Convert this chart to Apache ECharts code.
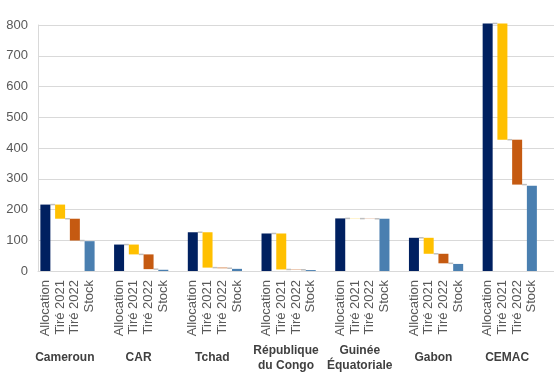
<!DOCTYPE html>
<html>
<head>
<meta charset="utf-8">
<script src="https://cdn.jsdelivr.net/npm/echarts@6/dist/echarts.min.js"></script>
<style>
  html, body { margin: 0; padding: 0; background: #fff; }
  #main { width: 554px; height: 373px; }
</style>
</head>
<body>
<div id="main"></div>
<script>
// données
const groups = ['Cameroun', 'CAR', 'Tchad', 'République\ndu Congo', 'Guinée\nÉquatoriale', 'Gabon', 'CEMAC'];
const steps = ['Allocation', 'Tiré 2021', 'Tiré 2022', 'Stock'];
const allocation = [216, 86, 126, 122, 171, 108, 805];
const tire2021 = [46, 32, 115, 117, 0.6, 52, 378];
const tire2022 = [71, 48, 2, 1, 0.6, 31, 146];
const stock = [97, 4, 7, 3, 170, 23, 277];

const colors = ['#002060', '#FFC000', '#C55A11', '#4A7FB0'];
const font = 'Liberation Sans, Arial, sans-serif';

// 5 emplacements par pays : 4 barres + un vide
const categories = [];
const base = [], sAlloc = [], s2021 = [], s2022 = [], sStock = [];
const connectors = [];
groups.forEach(function (g, i) {
    const k = i * 5;
    const after2021 = allocation[i] - tire2021[i];
    const after2022 = after2021 - tire2022[i];
    steps.forEach(function (s) { categories.push(s); });
    categories.push('');
    base.push('-', after2021, after2022, '-', '-');
    sAlloc.push(allocation[i], '-', '-', '-', '-');
    s2021.push('-', tire2021[i], '-', '-', '-');
    s2022.push('-', '-', tire2022[i], '-', '-');
    sStock.push('-', '-', '-', stock[i], '-');
    connectors.push([k, k + 1, allocation[i]], [k + 1, k + 2, after2021], [k + 2, k + 3, after2022]);
});

const chart = echarts.init(document.getElementById('main'));

function barSeries(name, data, color) {
    return {
        name: name,
        type: 'bar',
        stack: 'w',
        data: data,
        barWidth: 10,
        clip: false,
        itemStyle: { color: color },
        emphasis: { disabled: true }
    };
}

chart.setOption({
    animation: false,
    grid: { left: 38, top: 25, width: 519, bottom: 100 },
    xAxis: [
        {
            type: 'category',
            data: categories,
            axisLine: { lineStyle: { color: '#d9d9d9' } },
            axisTick: { show: false },
            axisLabel: {
                interval: 0,
                rotate: 90,
                margin: 9,
                color: '#595959',
                fontFamily: font,
                fontSize: 13
            }
        },
        {
            type: 'category',
            position: 'bottom',
            data: groups,
            axisLine: { show: false },
            axisTick: { show: false },
            axisLabel: {
                interval: 0,
                margin: 87,
                verticalAlign: 'middle',
                lineHeight: 15,
                padding: [0, 20, 0, 0],
                color: '#404040',
                fontFamily: font,
                fontWeight: 'bold',
                fontSize: 12
            }
        }
    ],
    yAxis: {
        type: 'value',
        min: 0,
        max: 800,
        interval: 100,
        axisLine: { show: true, lineStyle: { color: '#d9d9d9' } },
        axisTick: { show: false },
        splitLine: { lineStyle: { color: '#d9d9d9' } },
        axisLabel: { margin: 10, color: '#595959', fontFamily: font, fontSize: 13 }
    },
    series: [
        {
            type: 'bar',
            stack: 'w',
            data: base,
            barWidth: 10,
            itemStyle: { color: 'transparent' },
            emphasis: { disabled: true }
        },
        barSeries('Allocation', sAlloc, colors[0]),
        barSeries('Tiré 2021', s2021, colors[1]),
        barSeries('Tiré 2022', s2022, colors[2]),
        barSeries('Stock', sStock, colors[3]),
        {
            // traits de liaison gris entre les barres
            type: 'custom',
            data: connectors,
            encode: { x: [0, 1], y: 2 },
            renderItem: function (params, api) {
                const p1 = api.coord([api.value(0), api.value(2)]);
                const p2 = api.coord([api.value(1), api.value(2)]);
                return {
                    type: 'line',
                    shape: { x1: p1[0] + 5, y1: p1[1], x2: p2[0] - 5, y2: p2[1] },
                    style: { stroke: '#bfbfbf', lineWidth: 1.5 }
                };
            }
        }
    ]
});
</script>
</body>
</html>
